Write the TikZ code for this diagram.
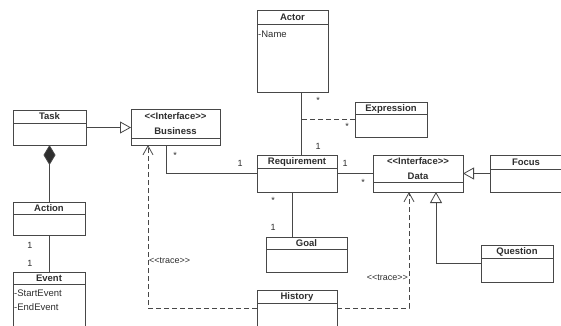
\documentclass[tikz,border=0pt]{standalone}
\usepackage{fontspec}
\setmainfont{Liberation Sans}
\usepackage{tikz}
\usetikzlibrary{arrows.meta, positioning}
\colorlet{umlline}{black!72}
\colorlet{umltext}{black!82}
\tikzset{
    classbox/.style={rectangle, draw=umlline, line width=0.8pt, fill=white, inner sep=0pt, outer sep=0pt},
    classname/.style={font=\fontsize{9.5}{15}\selectfont\bfseries, text=umltext, align=center, inner sep=0pt, text depth=0pt},
    attr/.style={font=\fontsize{9.5}{14}\selectfont, text=umltext, align=left, inner sep=0pt, anchor=north west},
    mult/.style={font=\fontsize{9}{10}\selectfont, text=umltext, inner sep=0pt},
    assoc/.style={draw=umlline, line width=0.8pt},
    dashline/.style={dash pattern=on 5pt off 3pt},
    inherit/.style={draw=umlline, line width=0.8pt, -{Triangle[open, length=11pt, width=12pt, fill=white]}},
    compose/.style={draw=umlline, line width=0.8pt, {Diamond[length=20pt, width=12pt, fill=umltext]}-},
    trace/.style={draw=umlline, line width=0.8pt, dashline, -{Straight Barb[length=9pt, width=10pt]}},
    tracelabel/.style={font=\fontsize{9}{10}\selectfont, text=umltext, inner sep=0pt}
}
% stereotype text, kept apart so << does not turn into a guillemet
\newcommand{\stereo}[1]{<\kern0pt<#1>\kern0pt>}
% name, left, top, width, height, head height, title
\newcommand{\umlclass}[7]{%
    \node[classbox, anchor=north west, minimum width=#4pt, minimum height=#5pt] (#1) at (#2,#3) {};
    \draw[umlline, line width=0.8pt] ([yshift=-#6pt]#1.north west) -- ([yshift=-#6pt]#1.north east);
    \node[classname] (#1-title) at ([yshift=-0.5*#6pt]#1.north) {#7};
}

\begin{document}
\begin{tikzpicture}[x=1pt, y=-1pt]
    % Frame
    \useasboundingbox (0,0) rectangle (561,325);
    \fill[white] (0,0) rectangle (561,325);
    \clip (0,0) rectangle (561,325);

    % Classes
    \umlclass{task}{13}{110}{73}{35}{13}{Task}
    \umlclass{business}{131}{109}{89}{36}{29}{\stereo{Interface}\\Business}
    \umlclass{action}{13}{202}{72}{33}{12}{Action}
    \umlclass{event}{13}{272}{72}{60}{12}{Event}
    \umlclass{actor}{257}{10}{71}{82}{14}{Actor}
    \umlclass{expression}{355}{102}{72}{35}{12}{Expression}
    \umlclass{requirement}{257}{155}{80}{37}{13}{Requirement}
    \umlclass{data}{373}{155}{90}{37}{27}{\stereo{Interface}\\Data}
    \umlclass{focus}{490}{155}{72}{37}{14}{Focus}
    \umlclass{question}{481}{245}{72}{37}{13}{Question}
    \umlclass{goal}{266}{237}{81}{35}{12}{Goal}
    \umlclass{history}{257}{290}{80}{50}{13}{History}

    % Attributes
    \node[attr] (actor-attr) at ([xshift=1pt, yshift=-21pt]actor.north west) {-Name};
    \node[attr] (event-attr) at ([xshift=1pt, yshift=-18pt]event.north west) {-StartEvent\\-EndEvent};

    % Generalizations
    \draw[inherit] (task.east) -- (task.east -| business.west);
    \draw[inherit] (focus.west) -- (focus.west -| data.east);
    \draw[inherit] (question.west) -| ([xshift=63pt]data.south west);

    % Composition
    \draw[compose] (task.south) -- (task.south |- action.north);

    % Associations
    \draw[assoc] (action.south) -- (action.south |- event.north);
    \node[mult] (m-action) at (30,245) {1};
    \node[mult] (m-event) at (30,263) {1};

    \draw[assoc] ([xshift=35pt]business.south west) |- (requirement.west);
    \node[mult] (m-business) at (175,155) {*};
    \node[mult] (m-req-b) at (240,163) {1};

    \coordinate (actline) at ([xshift=44pt]actor.south west);
    \draw[assoc] (actline) -- (actline |- requirement.north);
    \node[mult] (m-actor) at (318,100) {*};
    \node[mult] (m-req-a) at (318,146) {1};

    \draw[assoc, dashline] (expression.west) -- (expression.west -| actline);
    \node[mult] (m-expr) at (347,126) {*};

    \draw[assoc] (requirement.east) -- (requirement.east -| data.west);
    \node[mult] (m-req-d) at (345,163) {1};
    \node[mult] (m-data) at (363,182) {*};

    \draw[assoc] ([xshift=35pt]requirement.south west) -- ([xshift=35pt]requirement.south west |- goal.north);
    \node[mult] (m-req-g) at (273,200) {*};
    \node[mult] (m-goal) at (273,227) {1};

    % Traces
    \coordinate (traceL) at (148,308);
    \coordinate (traceR) at (409,308);
    \draw[trace] (traceL -| history.west) -- (traceL) -- (traceL |- business.south);
    \draw[trace] (traceR -| history.east) -- (traceR) -- (traceR |- data.south);
    \node[tracelabel, anchor=west] (traceL-label) at (149,261) {\stereo{trace}};
    \node[tracelabel, anchor=east] (traceR-label) at (408,278) {\stereo{trace}};
\end{tikzpicture}
\end{document}
